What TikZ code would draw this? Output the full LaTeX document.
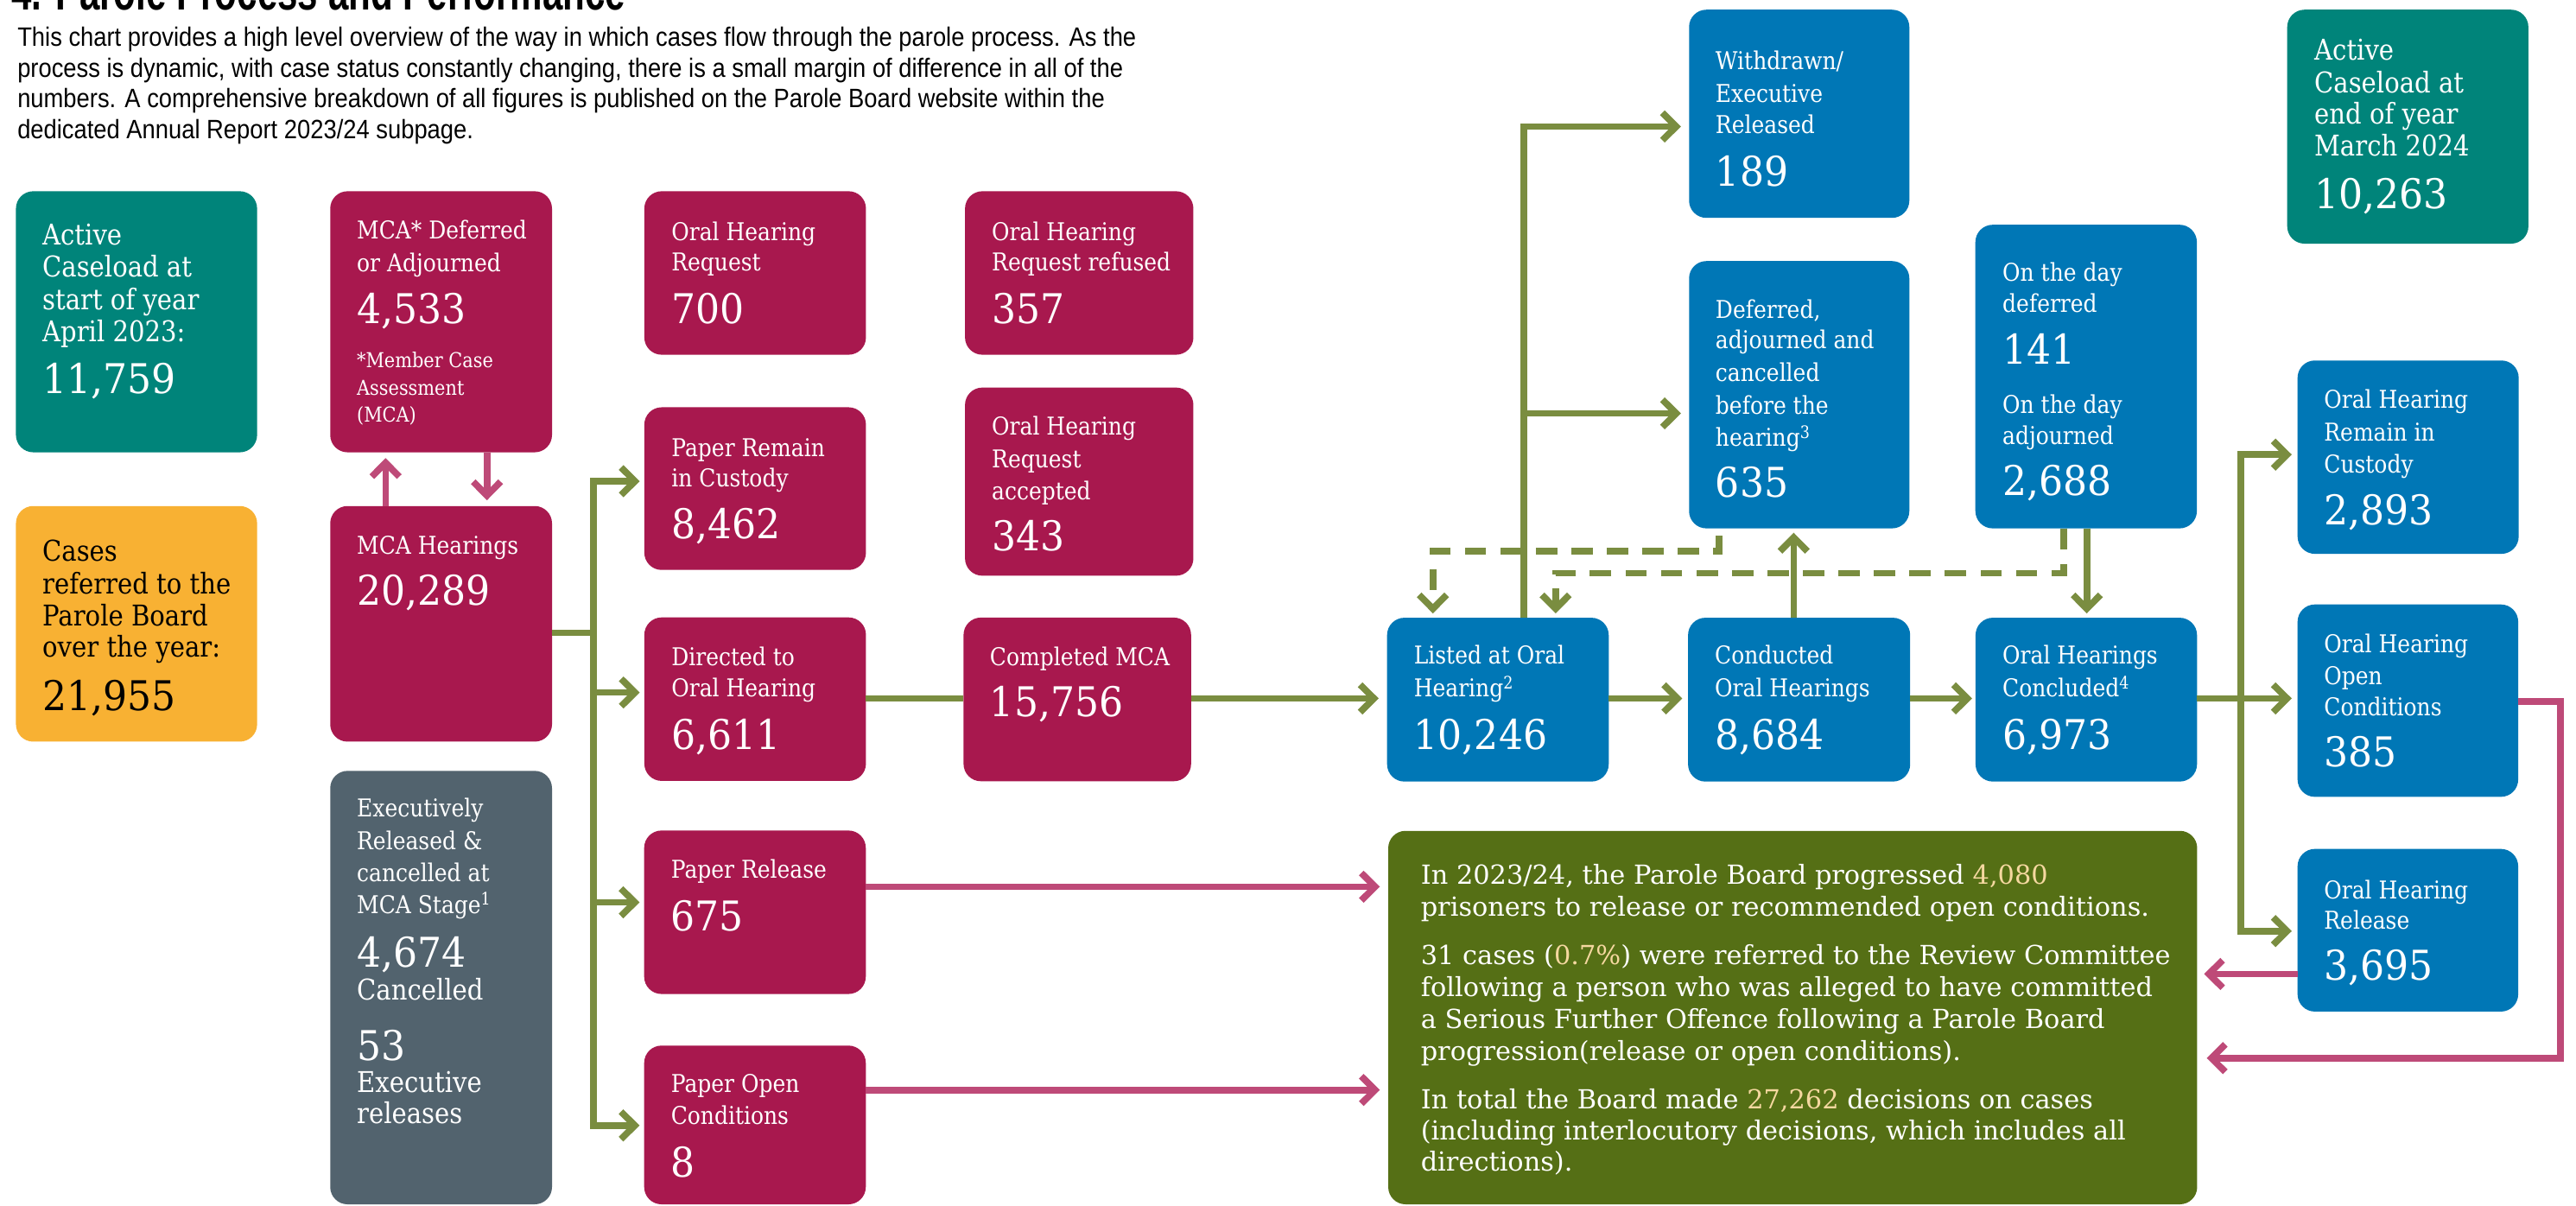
\documentclass[tikz,border=0pt]{standalone}
\usepackage{fontspec}
\setmainfont{DejaVu Serif}
\newfontfamily\lfont[FakeStretch=0.88]{DejaVu Serif}
\newfontfamily\nfont[FakeStretch=0.93]{DejaVu Serif}
\newfontfamily\sfont{DejaVu Serif}
\newfontfamily\pfont[FakeStretch=0.89]{Liberation Sans}
\newfontfamily\tfont[FakeStretch=0.7]{Liberation Sans}
\usetikzlibrary{arrows.meta,fit}
\definecolor{cteal}{HTML}{00847A}
\definecolor{ccrim}{HTML}{A8184E}
\definecolor{cblue}{HTML}{0077B6}
\definecolor{cslate}{HTML}{52636E}
\definecolor{corange}{HTML}{F8B133}
\definecolor{cgreen}{HTML}{7A8D40}
\definecolor{csum}{HTML}{556F15}
\definecolor{cpink}{HTML}{BE4A78}
\definecolor{chl}{HTML}{F5D8A0}
\newcounter{tn}
\newcommand\txl[4]{\stepcounter{tn}\node[#1] (t\arabic{tn}) at (#2,#3) {#4};}
\tikzset{
 bx/.style={rounded corners=6pt, inner sep=0pt, outer sep=0pt, draw=none},
 lb/.style={anchor=base west, inner sep=0pt, text=white, font=\lfont\fontsize{8.5}{10}\selectfont},
 lbb/.style={lb, font=\lfont\fontsize{9.9}{12}\selectfont},
 lbs/.style={lb, font=\lfont\fontsize{7.1}{8}\selectfont},
 nb/.style={lb, font=\nfont\fontsize{14.2}{16}\selectfont},
 sm/.style={anchor=base west, inner sep=0pt, text=white, font=\sfont\fontsize{9.1}{11}\selectfont},
 pp/.style={anchor=base west, inner sep=0pt, text=black, font=\pfont\fontsize{9.2}{10}\selectfont},
 gl/.style={draw=cgreen, line width=2.3pt},
 ga/.style={gl, -{Straight Barb[length=4.8pt,width=9.5pt]}, shorten >=2pt},
 pa/.style={draw=cpink, line width=2.3pt, -{Straight Barb[length=4.8pt,width=9.5pt]}, shorten >=2pt},
 da/.style={ga, dash pattern=on 7.4pt off 4.9pt},
}
\begin{document}
\begin{tikzpicture}[x=0.02cm,y=-0.02cm]
\useasboundingbox (0,0) rectangle (1568,734);
\clip (0,0) rectangle (1568,734);
\fill[white] (0,0) rectangle (1568,734);

% title and intro
\node[anchor=base west, inner sep=0pt, font=\tfont\bfseries\fontsize{18}{20}\selectfont] (title) at (6.7,6.2) {4. Parole Process and Performance};
\txl{pp}{10.3}{28}{This chart provides a high level overview of the way in which cases flow through the parole process. As the}
\txl{pp}{10.3}{46.8}{process is dynamic, with case status constantly changing, there is a small margin of difference in all of the}
\txl{pp}{10.3}{65.5}{numbers. A comprehensive breakdown of all figures is published on the Parole Board website within the}
\txl{pp}{10.3}{84.3}{dedicated Annual Report 2023/24 subpage.}

% boxes
\node[bx, fill=cteal, fit={(9.7,116.4) (156.5,275.3)}] (a1) {};
\node[bx, fill=corange, fit={(9.7,308) (156.5,451.4)}] (org) {};
\node[bx, fill=ccrim, fit={(201,116.4) (336,275.3)}] (mcad) {};
\node[bx, fill=ccrim, fit={(201,308) (336,451.4)}] (mcah) {};
\node[bx, fill=cslate, fit={(201,469.2) (336,733)}] (exe) {};
\node[bx, fill=ccrim, fit={(392.2,116.4) (527.1,215.9)}] (ohq) {};
\node[bx, fill=ccrim, fit={(587.4,116.4) (726.4,215.9)}] (ref) {};
\node[bx, fill=ccrim, fit={(392.2,247.9) (527.1,346.9)}] (ppr) {};
\node[bx, fill=ccrim, fit={(587.4,235.9) (726.4,350.4)}] (acc) {};
\node[bx, fill=ccrim, fit={(392.2,375.8) (527.1,475.3)}] (dir) {};
\node[bx, fill=ccrim, fit={(586.5,375.9) (725,475.5)}] (cmp) {};
\node[bx, fill=ccrim, fit={(392.1,505.5) (527,605)}] (prl) {};
\node[bx, fill=ccrim, fit={(392.1,636.4) (527,733)}] (ppo) {};
\node[bx, fill=cblue, fit={(1028.1,5.9) (1162.2,132.6)}] (wdr) {};
\node[bx, fill=cblue, fit={(1028.1,158.9) (1162.2,321.6)}] (dfr) {};
\node[bx, fill=cblue, fit={(1202.4,136.8) (1337.2,321.6)}] (otd) {};
\node[bx, fill=cteal, fit={(1392.2,5.9) (1539,148.3)}] (aend) {};
\node[bx, fill=cblue, fit={(844.3,376) (979.2,475.7)}] (lst) {};
\node[bx, fill=cblue, fit={(1027.5,376) (1162.7,475.7)}] (con) {};
\node[bx, fill=cblue, fit={(1202.5,376) (1337.3,475.7)}] (ccl) {};
\node[bx, fill=cblue, fit={(1398.5,219.4) (1533.1,337.1)}] (ohr) {};
\node[bx, fill=cblue, fit={(1398.5,367.9) (1532.8,485)}] (oho) {};
\node[bx, fill=cblue, fit={(1398.5,516.7) (1532.8,615.7)}] (ohl) {};
\node[bx, fill=csum, fit={(845,505.7) (1337.4,733)}] (sum) {};

% box texts
\txl{lbb}{25.5}{149}{Active}
\txl{lbb}{25.5}{168.5}{Caseload at}
\txl{lbb}{25.5}{188.5}{start of year}
\txl{lbb}{25.5}{207.7}{April 2023:}
\txl{nb}{25.5}{239.4}{11,759}

\txl{lbb,text=black}{25.5}{341.7}{Cases}
\txl{lbb,text=black}{25.5}{361.7}{referred to the}
\txl{lbb,text=black}{25.5}{381}{Parole Board}
\txl{lbb,text=black}{25.5}{400}{over the year:}
\txl{nb,text=black}{25.5}{432.6}{21,955}

\txl{lb}{216.9}{145.5}{MCA* Deferred}
\txl{lb}{216.9}{165.5}{or Adjourned}
\txl{nb}{216.9}{196.7}{4,533}
\txl{lbs}{216.9}{223.7}{*Member Case}
\txl{lbs}{216.9}{240.6}{Assessment}
\txl{lbs}{216.9}{257}{(MCA)}

\txl{lb}{216.9}{337.5}{MCA Hearings}
\txl{nb}{216.9}{368.5}{20,289}

\txl{lb}{216.9}{497.1}{Executively}
\txl{lb}{216.9}{517.2}{Released \&}
\txl{lb}{216.9}{536.6}{cancelled at}
\txl{lb}{216.9}{556}{MCA Stage\textsuperscript{1}}
\txl{nb}{216.9}{588.7}{4,674}
\txl{lbb}{216.9}{608.5}{Cancelled}
\txl{nb}{216.9}{645.4}{53}
\txl{lbb}{216.9}{665}{Executive}
\txl{lbb}{216.9}{684}{releases}

\txl{lb}{408.4}{146.2}{Oral Hearing}
\txl{lb}{408.4}{165}{Request}
\txl{nb}{408.4}{196.7}{700}

\txl{lb}{603.4}{146.2}{Oral Hearing}
\txl{lb}{603.4}{165}{Request refused}
\txl{nb}{603.4}{196.7}{357}

\txl{lb}{408.4}{277.7}{Paper Remain}
\txl{lb}{408.4}{296.4}{in Custody}
\txl{nb}{408.4}{328.1}{8,462}

\txl{lb}{603.4}{264.8}{Oral Hearing}
\txl{lb}{603.4}{284.7}{Request}
\txl{lb}{603.4}{304.2}{accepted}
\txl{nb}{603.4}{335.2}{343}

\txl{lb}{408.4}{405.1}{Directed to}
\txl{lb}{408.4}{424.3}{Oral Hearing}
\txl{nb}{408.4}{456}{6,611}

\txl{lb}{602.2}{405.1}{Completed MCA}
\txl{nb}{602.2}{436.1}{15,756}

\txl{lb}{408.1}{534.5}{Paper Release}
\txl{nb}{408.1}{566.3}{675}

\txl{lb}{408.1}{665.1}{Paper Open}
\txl{lb}{408.1}{684.4}{Conditions}
\txl{nb}{408.1}{716.4}{8}

\txl{lb}{1043.9}{42.3}{Withdrawn/}
\txl{lb}{1043.9}{62.2}{Executive}
\txl{lb}{1043.9}{81.4}{Released}
\txl{nb}{1043.9}{113.1}{189}

\txl{lb}{1043.9}{193.6}{Deferred,}
\txl{lb}{1043.9}{212.4}{adjourned and}
\txl{lb}{1043.9}{232.4}{cancelled}
\txl{lb}{1043.9}{252.3}{before the}
\txl{lb}{1043.9}{271.8}{hearing\textsuperscript{3}}
\txl{nb}{1043.9}{302.8}{635}

\txl{lb}{1218.6}{170.9}{On the day}
\txl{lb}{1218.6}{190.1}{deferred}
\txl{nb}{1218.6}{221.8}{141}
\txl{lb}{1218.6}{251.6}{On the day}
\txl{lb}{1218.6}{270.4}{adjourned}
\txl{nb}{1218.6}{301.6}{2,688}

\txl{lbb}{1408.4}{36.4}{Active}
\txl{lbb}{1408.4}{56.3}{Caseload at}
\txl{lbb}{1408.4}{75.6}{end of year}
\txl{lbb}{1408.4}{95.1}{March 2024}
\txl{nb}{1408.4}{126.8}{10,263}

\txl{lb}{860.3}{404}{Listed at Oral}
\txl{lb}{860.3}{424.1}{Hearing\textsuperscript{2}}
\txl{nb}{860.3}{456.4}{10,246}

\txl{lb}{1043.5}{404}{Conducted}
\txl{lb}{1043.5}{424.1}{Oral Hearings}
\txl{nb}{1043.5}{456.4}{8,684}

\txl{lb}{1218.6}{404}{Oral Hearings}
\txl{lb}{1218.6}{424.1}{Concluded\textsuperscript{4}}
\txl{nb}{1218.6}{456.4}{6,973}

\txl{lb}{1414.3}{248.7}{Oral Hearing}
\txl{lb}{1414.3}{268.6}{Remain in}
\txl{lb}{1414.3}{287.9}{Custody}
\txl{nb}{1414.3}{319.6}{2,893}

\txl{lb}{1414.3}{397.5}{Oral Hearing}
\txl{lb}{1414.3}{416.5}{Open}
\txl{lb}{1414.3}{435.8}{Conditions}
\txl{nb}{1414.3}{466.9}{385}

\txl{lb}{1414.3}{546.9}{Oral Hearing}
\txl{lb}{1414.3}{565.6}{Release}
\txl{nb}{1414.3}{596.7}{3,695}

\txl{sm}{864.5}{538.3}{In 2023/24, the Parole Board progressed \textcolor{chl}{4,080}}
\txl{sm}{864.5}{557.6}{prisoners to release or recommended open conditions.}
\txl{sm}{864.5}{587.1}{31 cases (\textcolor{chl}{0.7\%}) were referred to the Review Committee}
\txl{sm}{864.5}{606.6}{following a person who was alleged to have committed}
\txl{sm}{864.5}{625.9}{a Serious Further Offence following a Parole Board}
\txl{sm}{864.5}{645.4}{progression(release or open conditions).}
\txl{sm}{864.5}{674.7}{In total the Board made \textcolor{chl}{27,262} decisions on cases}
\txl{sm}{864.5}{694}{(including interlocutory decisions, which includes all}
\txl{sm}{864.5}{713}{directions).}

% connectors: MCA loop
\coordinate (xU) at (234.7,0);
\coordinate (xD) at (296.4,0);
\draw[pa] (mcah.north -| xU) -- (mcad.south -| xU);
\draw[pa] (mcad.south -| xD) -- (mcah.north -| xD);

% green trunk from MCA hearings
\coordinate (tr) at (361.4,385.2);
\coordinate (tA) at (361.4,292.9);
\coordinate (tB) at (361.4,421.5);
\coordinate (tC) at (361.4,549.2);
\coordinate (tD) at (361.4,685);
\draw[gl] (mcah.east |- tr) -- (tr);
\draw[ga, shorten >=1.6pt] (tB) -- (tA) -- (ppr.west |- tA);
\draw[ga, shorten >=1.6pt] (tB) -- (tD) -- (ppo.west |- tD);
\draw[ga, shorten >=1.6pt] (tB) -- (dir.west |- tB);
\draw[ga, shorten >=1.6pt] (tC) -- (prl.west |- tC);

% main oral hearing line
\coordinate (yM) at (0,425.1);
\draw[gl] (dir.east |- yM) -- (cmp.west |- yM);
\draw[ga, shorten >=2.9pt] (cmp.east |- yM) -- (lst.west |- yM);
\draw[ga] (lst.east |- yM) -- (con.west |- yM);
\draw[ga, shorten >=1.2pt] (con.east |- yM) -- (ccl.west |- yM);
\draw[ga] (ccl.east |- yM) -- (oho.west |- yM);

% right trunk
\coordinate (rA) at (1363.8,276.7);
\coordinate (rB) at (1363.8,566.7);
\draw[ga] (rB) -- (rA) -- (ohr.west |- rA);
\draw[ga] (rA) -- (rB) -- (ohl.west |- rB);

% listed -> withdrawn / deferred
\coordinate (lA) at (927.5,77);
\coordinate (lB) at (927.5,251.6);
\draw[ga, shorten >=2.8pt] (lst.north -| lA) -- (lA) -- (wdr.west |- lA);
\draw[ga, shorten >=2.8pt] (lB) -- (dfr.west |- lB);

% conducted up, on the day down
\coordinate (xC) at (1091.8,0);
\coordinate (xO) at (1270.2,0);
\draw[ga, shorten >=1.5pt] (con.north -| xC) -- (dfr.south -| xC);
\draw[ga, shorten >=1.5pt] (otd.south -| xO) -- (ccl.north -| xO);

% dashed returns
\coordinate (d1) at (1046.5,335.6);
\coordinate (d1e) at (872.2,335.6);
\draw[da, shorten <=2.6pt, shorten >=1.5pt] (dfr.south -| d1) -- (d1) -- (d1e) -- (lst.north -| d1e);
\coordinate (d2) at (1256.1,348.8);
\coordinate (d2e) at (946.9,348.8);
\draw[da, shorten >=1.5pt] (otd.south -| d2) -- (d2) -- (d2e) -- (lst.north -| d2e);

% pink to summary
\coordinate (yR) at (0,539.7);
\coordinate (yO) at (0,663.4);
\coordinate (yL) at (0,592.8);
\draw[pa, shorten >=2.9pt] (prl.east |- yR) -- (sum.west |- yR);
\draw[pa, shorten >=2.9pt] (ppo.east |- yO) -- (sum.west |- yO);
\draw[pa, shorten >=2.4pt] (ohl.west |- yL) -- (sum.east |- yL);
\coordinate (pR) at (1558.4,426.8);
\coordinate (pB) at (1558.4,644);
\draw[pa, shorten >=3.3pt] (oho.east |- pR) -- (pR) -- (pB) -- (sum.east |- pB);
\end{tikzpicture}
\end{document}
